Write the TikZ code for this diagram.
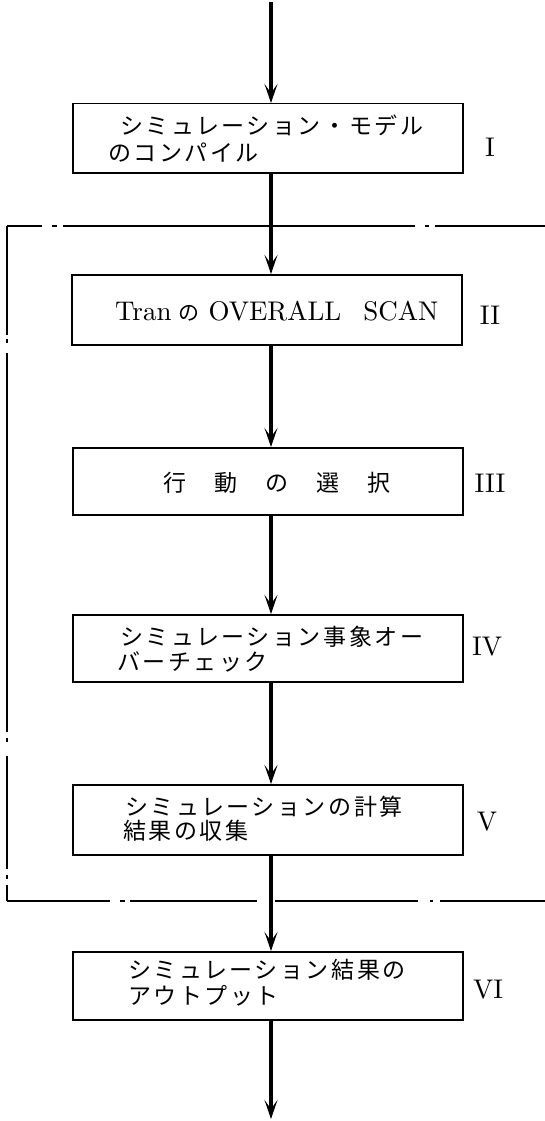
\documentclass[tikz,border=0pt]{standalone}
\usepackage{fontspec}
\usetikzlibrary{arrows.meta}
\newfontfamily\jp[LetterSpace=11]{Noto Sans CJK JP}
\newfontfamily\jpplain{Noto Sans CJK JP}
\newfontfamily\lmten{lmroman10-regular.otf}
\begin{document}
\begin{tikzpicture}[x=1pt,y=-1pt,
  procbox/.style={draw, line width=1.5pt, minimum width=390pt, inner sep=0pt, anchor=north west},
  jptext/.style={inner sep=0pt, anchor=west, font=\jp\fontsize{23}{27}\selectfont},
  numlabel/.style={inner sep=0pt, font=\lmten\fontsize{27}{30}\selectfont},
  flow/.style={line width=3.2pt, -{Stealth[length=19pt,width=13pt,inset=9pt]}},
  frameline/.style={line width=1.4pt}
]
\useasboundingbox (0,0) rectangle (545,1121);
% boxes
\node[procbox, minimum height=69pt] (b1) at (72,103) {};
\node[procbox, minimum height=70pt] (b2) at (71,274) {};
\node[procbox, minimum height=67pt] (b3) at (72,447) {};
\node[procbox, minimum height=67pt] (b4) at (72,614) {};
\node[procbox, minimum height=70pt] (b5) at (72,784) {};
\node[procbox, minimum height=68pt] (b6) at (72,951) {};
% texts
\node[jptext] (t1a) at (120,125) {シミュレーション・モデル};
\node[jptext] (t1b) at (108,153) {のコンパイル};
\node[inner sep=0pt, anchor=base west, font=\lmten\fontsize{27}{30}\selectfont] (t2) at (115,320)
  {Tran\hspace{7pt}{\jpplain\fontsize{21}{24}\selectfont の}\hspace{9pt}OVERALL\hspace{22pt}SCAN};
\node[jptext] (t3) at (163,483) {行\hspace{28pt}動\hspace{28pt}の\hspace{28pt}選\hspace{28pt}択};
\node[jptext] (t4a) at (120,637) {シミュレーション事象オー};
\node[jptext] (t4b) at (117,662) {バーチェック};
\node[jptext] (t5a) at (125,807) {シミュレーションの計算};
\node[jptext] (t5b) at (123,831) {結果の収集};
\node[jptext] (t6a) at (128,970) {シミュレーション結果の};
\node[jptext] (t6b) at (128,996) {アウトプット};
% labels
\node[numlabel] (l1) at (490,147) {I};
\node[numlabel] (l2) at (490,315) {II};
\node[numlabel] (l3) at (490,483) {III};
\node[numlabel] (l4) at (487,647) {IV};
\node[numlabel] (l5) at (487,822) {V};
\node[numlabel] (l6) at (488,990) {VI};
% dash-dot frame
\coordinate (ftl) at (7,226);
\coordinate (ftr) at (545,226);
\coordinate (fbl) at (7,901);
\coordinate (fbr) at (545,901);
\draw[frameline, dash pattern=on 35pt off 10pt on 5pt off 6pt on 352pt off 10pt on 4pt off 6pt on 200pt] (ftl) -- (ftr);
\draw[frameline, dash pattern=on 109pt off 4pt on 4pt off 10pt on 379pt off 6pt on 4pt off 14pt on 113pt off 6pt on 4pt off 6pt on 40pt] (ftl) -- (fbl);
\draw[frameline, dash pattern=on 103pt off 10pt on 5pt off 5pt on 127pt off 18pt on 143pt off 12pt on 3pt off 7pt on 200pt] (fbl) -- (fbr);
% arrows
\coordinate (start) at (271,2);
\coordinate (finish) at (271,1119);
\draw[flow] (start) -- (start |- b1.north);
\draw[flow] (b1.south -| start) -- (b2.north -| start);
\draw[flow] (b2.south -| start) -- (b3.north -| start);
\draw[flow] (b3.south -| start) -- (b4.north -| start);
\draw[flow] (b4.south -| start) -- (b5.north -| start);
\draw[flow] (b5.south -| start) -- (b6.north -| start);
\draw[flow] (b6.south -| start) -- (finish);
\end{tikzpicture}
\end{document}
